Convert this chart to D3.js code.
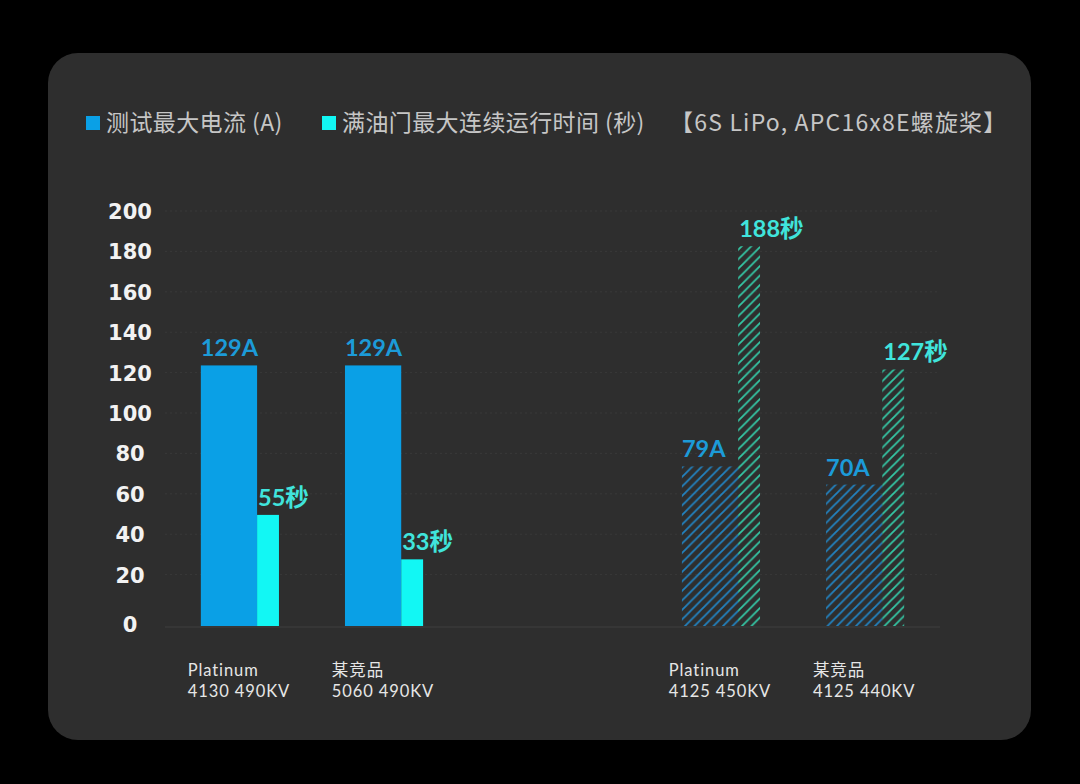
<!DOCTYPE html>
<html><head><meta charset="utf-8">
<script src="https://cdn.jsdelivr.net/npm/d3@7"></script>
<style>
html,body{margin:0;padding:0;background:#000;}
svg{display:block;}
</style></head>
<body>
<svg id="chart" width="1080" height="784"></svg>
<script>
// ---- data ----
const sets = ["A", "B"];
const products = [
  {set: "A", name: "Platinum", model: "4130 490KV"},
  {set: "A", name: "某竞品", model: "5060 490KV"},
  {set: "B", name: "Platinum", model: "4125 450KV"},
  {set: "B", name: "某竞品", model: "4125 440KV"}
];
const currentA = [129, 129, 79, 70];
const runtimeS = [55, 33, 188, 127];
const hatchedSets = ["B"];
const yTicks = [0, 20, 40, 60, 80, 100, 120, 140, 160, 180, 200];
const legendItems = ["测试最大电流 (A)", "满油门最大连续运行时间 (秒)"];
const legendNote = "【6S LiPo, APC16x8E螺旋桨】";

// ---- setup ----
const svg = d3.select("#chart");
const W = 1080, H = 784;
const colBlue = "#0aa0e6", colCyan = "#12f7f4";
const lblBlue = "#1c9bd8", lblCyan = "#40e4dc";
const hatchBlue = "#2282c0", hatchCyan = "#34c6a4";

svg.append("rect").attr("width", W).attr("height", H).attr("fill", "#000");
svg.append("rect").attr("x", 48).attr("y", 53).attr("width", 983).attr("height", 687)
  .attr("rx", 30).attr("fill", "#2e2e2e");

const defs = svg.append("defs");
function hatch(id, color) {
  const p = defs.append("pattern").attr("id", id).attr("patternUnits", "userSpaceOnUse")
    .attr("width", 9.5).attr("height", 9.5);
  p.append("path").attr("d", "M-2.375,2.375 l4.75,-4.75 M0,9.5 l9.5,-9.5 M7.125,11.875 l4.75,-4.75")
    .attr("stroke", color).attr("stroke-width", 1.8).attr("fill", "none");
}
hatch("hBlue", hatchBlue);
hatch("hCyan", hatchCyan);

const plotL = 165, plotR = 940;
const y = d3.scaleLinear().domain([0, 200]).range([626, 222]);
const axisShift = -11; // axis labels/gridlines sit slightly above the bar scale in the original
const xSet = d3.scaleBand().domain(sets).range([plotL, plotR]).paddingInner(0.538).paddingOuter(0.0745);
const xProd = d3.scaleBand().domain([0, 1]).range([0, xSet.bandwidth()]).paddingInner(0.458).paddingOuter(0);

const idxInSet = products.map((p, i) => products.filter((q, j) => j < i && q.set === p.set).length);
const prodX = i => xSet(products[i].set) + xProd(idxInSet[i]);
const bw = xProd.bandwidth();
const wBlue = bw * 0.72, wCyan = bw - wBlue;

// gridlines
const grid = svg.append("g").attr("transform", `translate(0,${axisShift})`);
grid.selectAll("line").data(yTicks.filter(d => d > 0)).join("line")
  .attr("x1", plotL).attr("x2", plotR)
  .attr("y1", d => y(d)).attr("y2", d => y(d))
  .attr("stroke", "#393939").attr("stroke-width", 1).attr("stroke-dasharray", "2,3");
svg.append("line").attr("x1", plotL).attr("x2", plotR).attr("y1", y(0) + 1).attr("y2", y(0) + 1)
  .attr("stroke", "#3f3f3f").attr("stroke-width", 1.2);

// y axis labels
const yAxis = d3.axisLeft(y).tickValues(yTicks).tickSize(0).tickPadding(0);
const ga = svg.append("g").attr("transform", `translate(130,${axisShift})`).call(yAxis);
ga.select(".domain").remove();
ga.selectAll("text").attr("text-anchor", "middle").attr("fill", "#f2f2f2")
  .attr("font-family", "'DejaVu Sans', sans-serif").attr("font-weight", 700).attr("font-size", 21)
  .attr("dy", d => d === 0 ? (0.36 * 21 - axisShift - 2) + "px" : "0.36em").attr("x", 0);

// bars
const idx = d3.range(products.length);
const isH = i => hatchedSets.includes(products[i].set);
svg.append("g").selectAll("rect").data(idx).join("rect")
  .attr("x", i => prodX(i)).attr("width", wBlue)
  .attr("y", i => y(currentA[i])).attr("height", i => y(0) - y(currentA[i]))
  .attr("fill", i => isH(i) ? "url(#hBlue)" : colBlue);
svg.append("g").selectAll("rect").data(idx).join("rect")
  .attr("x", i => prodX(i) + wBlue).attr("width", wCyan)
  .attr("y", i => y(runtimeS[i])).attr("height", i => y(0) - y(runtimeS[i]))
  .attr("fill", i => isH(i) ? "url(#hCyan)" : colCyan);

// value labels
const vf = "Lato, 'Noto Sans CJK SC', sans-serif";
svg.append("g").selectAll("text").data(idx).join("text")
  .attr("x", i => prodX(i)).attr("y", i => y(currentA[i]) - 9)
  .attr("fill", lblBlue).attr("font-family", vf).attr("font-weight", 700).attr("font-size", 23.5)
  .text(i => currentA[i] + "A");
svg.append("g").selectAll("text").data(idx).join("text")
  .attr("x", i => prodX(i) + wBlue + 1).attr("y", i => y(runtimeS[i]) - 9)
  .attr("fill", lblCyan).attr("font-family", vf).attr("font-weight", 700).attr("font-size", 23.5)
  .text(i => runtimeS[i] + "秒");

// x labels
const xl = svg.append("g").selectAll("g").data(idx).join("g");
xl.each(function(i) {
  const g = d3.select(this);
  const t1 = g.append("text").attr("y", 676).text(products[i].name);
  const t2 = g.append("text").attr("y", 697).text(products[i].model);
  g.selectAll("text").attr("fill", "#e6e6e6").attr("font-family", "Lato, 'Noto Sans CJK SC', sans-serif")
    .attr("font-size", 16.5).attr("letter-spacing", 0.9);
  const mw = Math.max(t1.node().getComputedTextLength(), t2.node().getComputedTextLength());
  const cx = prodX(i) + bw / 2 - 1;
  g.attr("transform", `translate(${cx - mw / 2},0)`);
});

// legend
const lf = "'Noto Sans CJK SC', sans-serif";
const leg = svg.append("g");
const legX = [86, 322];
const legC = [colBlue, colCyan];
legendItems.forEach((t, k) => {
  leg.append("rect").attr("x", legX[k]).attr("y", 116).attr("width", 14).attr("height", 14).attr("fill", legC[k]);
  leg.append("text").attr("x", legX[k] + 20).attr("y", 131).text(t)
    .attr("fill", "#c6c6c6").attr("font-family", lf).attr("font-size", 23).attr("letter-spacing", 0.4);
});
leg.append("text").attr("x", 670).attr("y", 131).text(legendNote)
  .attr("fill", "#c6c6c6").attr("font-family", lf).attr("font-size", 23).attr("letter-spacing", 1.2);
</script>
</body></html>
